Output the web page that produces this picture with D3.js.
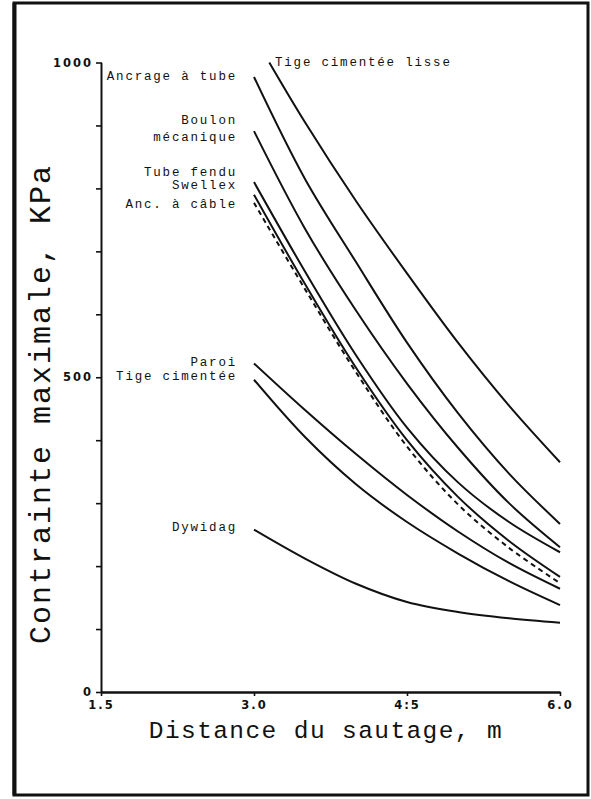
<!DOCTYPE html>
<html>
<head>
<meta charset="utf-8">
<script src="https://cdn.jsdelivr.net/npm/d3@7/dist/d3.min.js"></script>
<style>
  html, body { margin: 0; padding: 0; background: #fff; }
  svg { display: block; }
  .lab { font-family: "Liberation Mono", "DejaVu Sans Mono", monospace; font-size: 12.5px; letter-spacing: 1.8px; fill: #111; }
  .tick text { font-family: "DejaVu Sans", sans-serif; font-weight: bold; font-size: 11.5px; letter-spacing: 2px; fill: #111; }
</style>
</head>
<body>
<svg id="chart" width="591" height="799"></svg>
<script>
// Distance du sautage (m) where each curve is read
const distances = [3.0, 3.5, 4.0, 4.5, 5.0, 5.5, 6.0];
const lisseDistances = [3.15, 3.5, 4.0, 4.5, 5.0, 5.5, 6.0];

// Contrainte maximale (KPa) for each support type
const tigeLisse    = [1000, 905, 780, 665, 555, 455, 365];
const ancrageTube  = [977, 815, 683, 555, 443, 347, 267];
const boulonMeca   = [891, 736, 606, 490, 388, 300, 230];
const tubeFendu    = [810, 668, 535, 420, 333, 270, 222];
const swellex      = [790, 648, 515, 400, 310, 240, 183];
const ancCable     = [777, 640, 508, 390, 298, 229, 173];
const paroi        = [522, 448, 378, 313, 255, 205, 164];
const tigeCimentee = [496, 405, 330, 270, 220, 176, 138];
const dywidag      = [258, 212, 172, 143, 127, 117, 110];

// Axis ticks
const xTickValues = [1.5, 3.0, 4.5, 6.0];
const xTickLabels = ["1.5", "3.0", "4:5", "6.0"];
const yTickValues = [0, 500, 1000];
const yTickLabels = ["0", "500", "1000"];
const yMinorTicks = d3.range(0, 1001, 100);

const svg = d3.select("#chart");

const x = d3.scaleLinear().domain([1.5, 6.0]).range([101, 560]);
const y = d3.scaleLinear().domain([0, 1000]).range([692, 62.5]);

// outer frame
svg.append("rect").attr("x", 14).attr("y", 3).attr("width", 574).attr("height", 792)
  .attr("fill", "none").attr("stroke", "#111").attr("stroke-width", 3);
svg.append("line").attr("x1", 14.5).attr("x2", 14.5).attr("y1", 3).attr("y2", 795)
  .attr("stroke", "#111").attr("stroke-width", 4);

// y axis: minor ticks every 100, labels at 0 / 500 / 1000
const yAxis = svg.append("g").attr("transform", "translate(101,0)")
  .call(d3.axisLeft(y).tickValues(yMinorTicks).tickSize(5).tickSizeOuter(0)
    .tickFormat(d => { const i = yTickValues.indexOf(d); return i >= 0 ? yTickLabels[i] : ""; })
    .tickPadding(3));
yAxis.select(".domain").attr("stroke", "#111").attr("stroke-width", 2);
yAxis.selectAll(".tick line").attr("stroke", "#111").attr("stroke-width", 1.6).attr("x2", -5).attr("x1", 1);

// x axis
const xAxis = svg.append("g").attr("transform", "translate(0,692)")
  .call(d3.axisBottom(x).tickValues(xTickValues).tickSize(4).tickSizeOuter(0)
    .tickFormat((d, i) => xTickLabels[i]).tickPadding(5));
xAxis.select(".domain").attr("stroke", "#111").attr("stroke-width", 2.4);
xAxis.selectAll(".tick line").attr("stroke", "#111").attr("stroke-width", 1.6);

// curves
const line = d3.line().x(d => x(d[0])).y(d => y(d[1])).curve(d3.curveCatmullRom.alpha(0.5));
const series = [
  { xs: lisseDistances, ys: tigeLisse },
  { xs: distances, ys: ancrageTube },
  { xs: distances, ys: boulonMeca },
  { xs: distances, ys: tubeFendu },
  { xs: distances, ys: swellex },
  { xs: distances, ys: ancCable, dash: "5,4" },
  { xs: distances, ys: paroi },
  { xs: distances, ys: tigeCimentee },
  { xs: distances, ys: dywidag }
];
svg.append("g").selectAll("path").data(series).join("path")
  .attr("d", s => line(s.xs.map((v, i) => [v, s.ys[i]])))
  .attr("fill", "none").attr("stroke", "#111").attr("stroke-width", 2)
  .attr("stroke-dasharray", s => s.dash || null);

// curve names
const labels = [
  { t: "Tige cimentée lisse", x: 275, y: 66, a: "start" },
  { t: "Ancrage à tube", x: 237, y: 80, a: "end" },
  { t: "Boulon", x: 237, y: 124, a: "end" },
  { t: "mécanique", x: 237, y: 141, a: "end" },
  { t: "Tube fendu", x: 237, y: 176, a: "end" },
  { t: "Swellex", x: 237, y: 189, a: "end" },
  { t: "Anc. à câble", x: 237, y: 208, a: "end" },
  { t: "Paroi", x: 237, y: 366, a: "end" },
  { t: "Tige cimentée", x: 237, y: 380, a: "end" },
  { t: "Dywidag", x: 237, y: 531, a: "end" }
];
svg.append("g").selectAll("text").data(labels).join("text")
  .attr("class", "lab").attr("x", d => d.x).attr("y", d => d.y)
  .attr("text-anchor", d => d.a).text(d => d.t);

// axis titles
svg.append("text").attr("transform", "translate(50,404) rotate(-90)")
  .attr("text-anchor", "middle")
  .style("font-family", "'Liberation Mono', monospace").style("font-size", "30px")
  .style("letter-spacing", "2px").style("fill", "#111")
  .text("Contrainte maximale, KPa");
svg.append("text").attr("x", 326).attr("y", 738).attr("text-anchor", "middle")
  .style("font-family", "'Liberation Mono', monospace").style("font-size", "24.5px")
  .style("letter-spacing", "1.4px").style("fill", "#111")
  .text("Distance du sautage, m");
</script>
</body>
</html>
